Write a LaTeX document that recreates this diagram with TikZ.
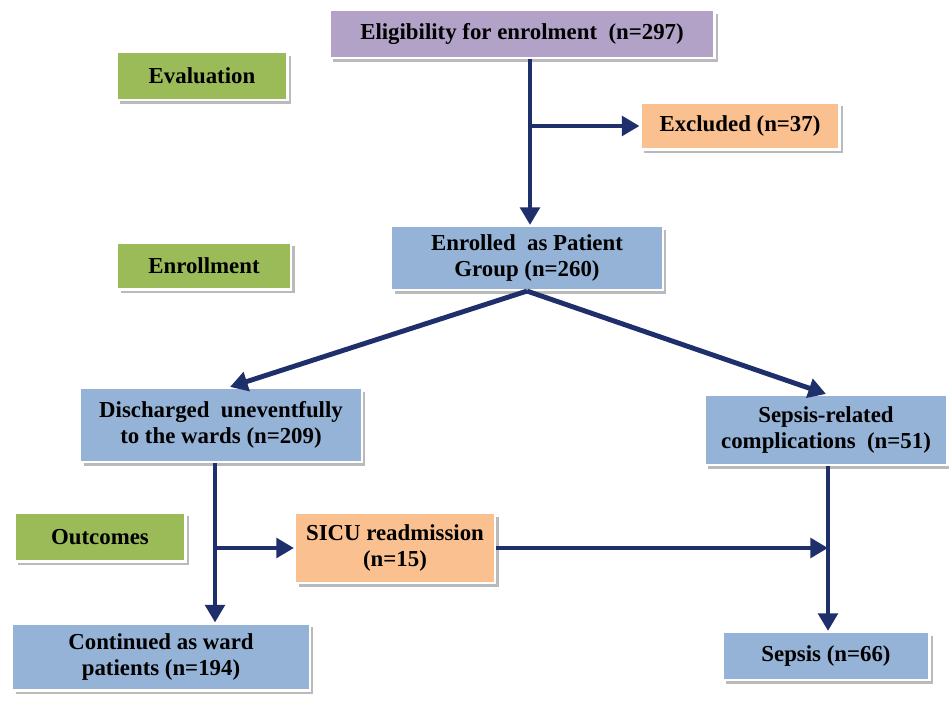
\documentclass[tikz,border=0pt]{standalone}
\usepackage{fontspec}
\setmainfont{Liberation Serif}
\usetikzlibrary{arrows.meta, shadows}
\definecolor{eligpurple}{HTML}{B3A2C7}
\definecolor{stagegreen}{HTML}{9BBB59}
\definecolor{exclorange}{HTML}{FAC090}
\definecolor{groupblue}{HTML}{95B3D7}
\definecolor{arrownavy}{HTML}{1F2F6B}

\tikzset{
  box/.style={draw=white, line width=1.2pt, align=center, inner sep=2pt,
    font=\fontsize{13}{15}\selectfont\bfseries,
    drop shadow={shadow xshift=2pt, shadow yshift=-2pt, fill=black!45, opacity=0.6}},
  flow/.style={draw=arrownavy, line width=2.8pt,
    -{Triangle[length=10pt, width=11pt]}}
}

\begin{document}
\begin{tikzpicture}[x=0.02cm, y=-0.02cm]
\useasboundingbox (0,0) rectangle (949,702);

% Stage labels
\node[box, fill=stagegreen, minimum width=3.42cm, minimum height=0.96cm] (evaluation) at (202,76) {Evaluation};
\node[box, fill=stagegreen, minimum width=3.48cm, minimum height=0.94cm] (enrollment) at (204,266) {Enrollment};
\node[box, fill=stagegreen, minimum width=3.42cm, minimum height=0.98cm] (outcomes) at (100,537) {Outcomes};

% Flow boxes
\node[box, fill=eligpurple, minimum width=7.7cm, minimum height=0.96cm] (eligibility) at (522,34) {Eligibility for enrolment\ \ (n=297)};
\node[box, fill=exclorange, minimum width=3.98cm, minimum height=0.94cm] (excluded) at (740,126) {Excluded (n=37)};
\node[box, fill=groupblue, minimum width=5.44cm, minimum height=1.28cm] (enrolled) at (527,258) {Enrolled\ \ as Patient\\Group (n=260)};
\node[box, fill=groupblue, minimum width=5.64cm, minimum height=1.48cm] (discharged) at (221,425) {Discharged\ \ uneventfully\\to the wards (n=209)};
\node[box, fill=groupblue, minimum width=4.86cm, minimum height=1.4cm] (sepsisrel) at (826,430) {Sepsis-related\\complications\ \ (n=51)};
\node[box, fill=exclorange, minimum width=4cm, minimum height=1.4cm] (sicu) at (395,548) {SICU readmission\\(n=15)};
\node[box, fill=groupblue, minimum width=5.96cm, minimum height=1.34cm] (continued) at (161,657) {Continued as ward\\patients (n=194)};
\node[box, fill=groupblue, minimum width=4.14cm, minimum height=0.96cm] (sepsis) at (826,656) {Sepsis (n=66)};

% Branch points
\coordinate (exbranch) at (530,126);
\coordinate (sicubranch) at (215,548);
\coordinate (sepsisjoin) at (828,548);

% Connectors
\draw[flow] (eligibility.south -| exbranch) -- (enrolled.north -| exbranch);
\draw[flow] (exbranch) -- (excluded.west);
\draw[flow] (enrolled.south) -- ([xshift=0.18cm]discharged.north);
\draw[flow] (enrolled.south) -- (sepsisrel.north);
\draw[flow] (discharged.south -| sicubranch) -- (continued.north -| sicubranch);
\draw[flow] (sicubranch) -- (sicu.west);
\draw[flow] (sepsisrel.south -| sepsisjoin) -- (sepsis.north -| sepsisjoin);
\draw[flow] (sicu.east) -- (sepsisjoin);

\end{tikzpicture}
\end{document}
